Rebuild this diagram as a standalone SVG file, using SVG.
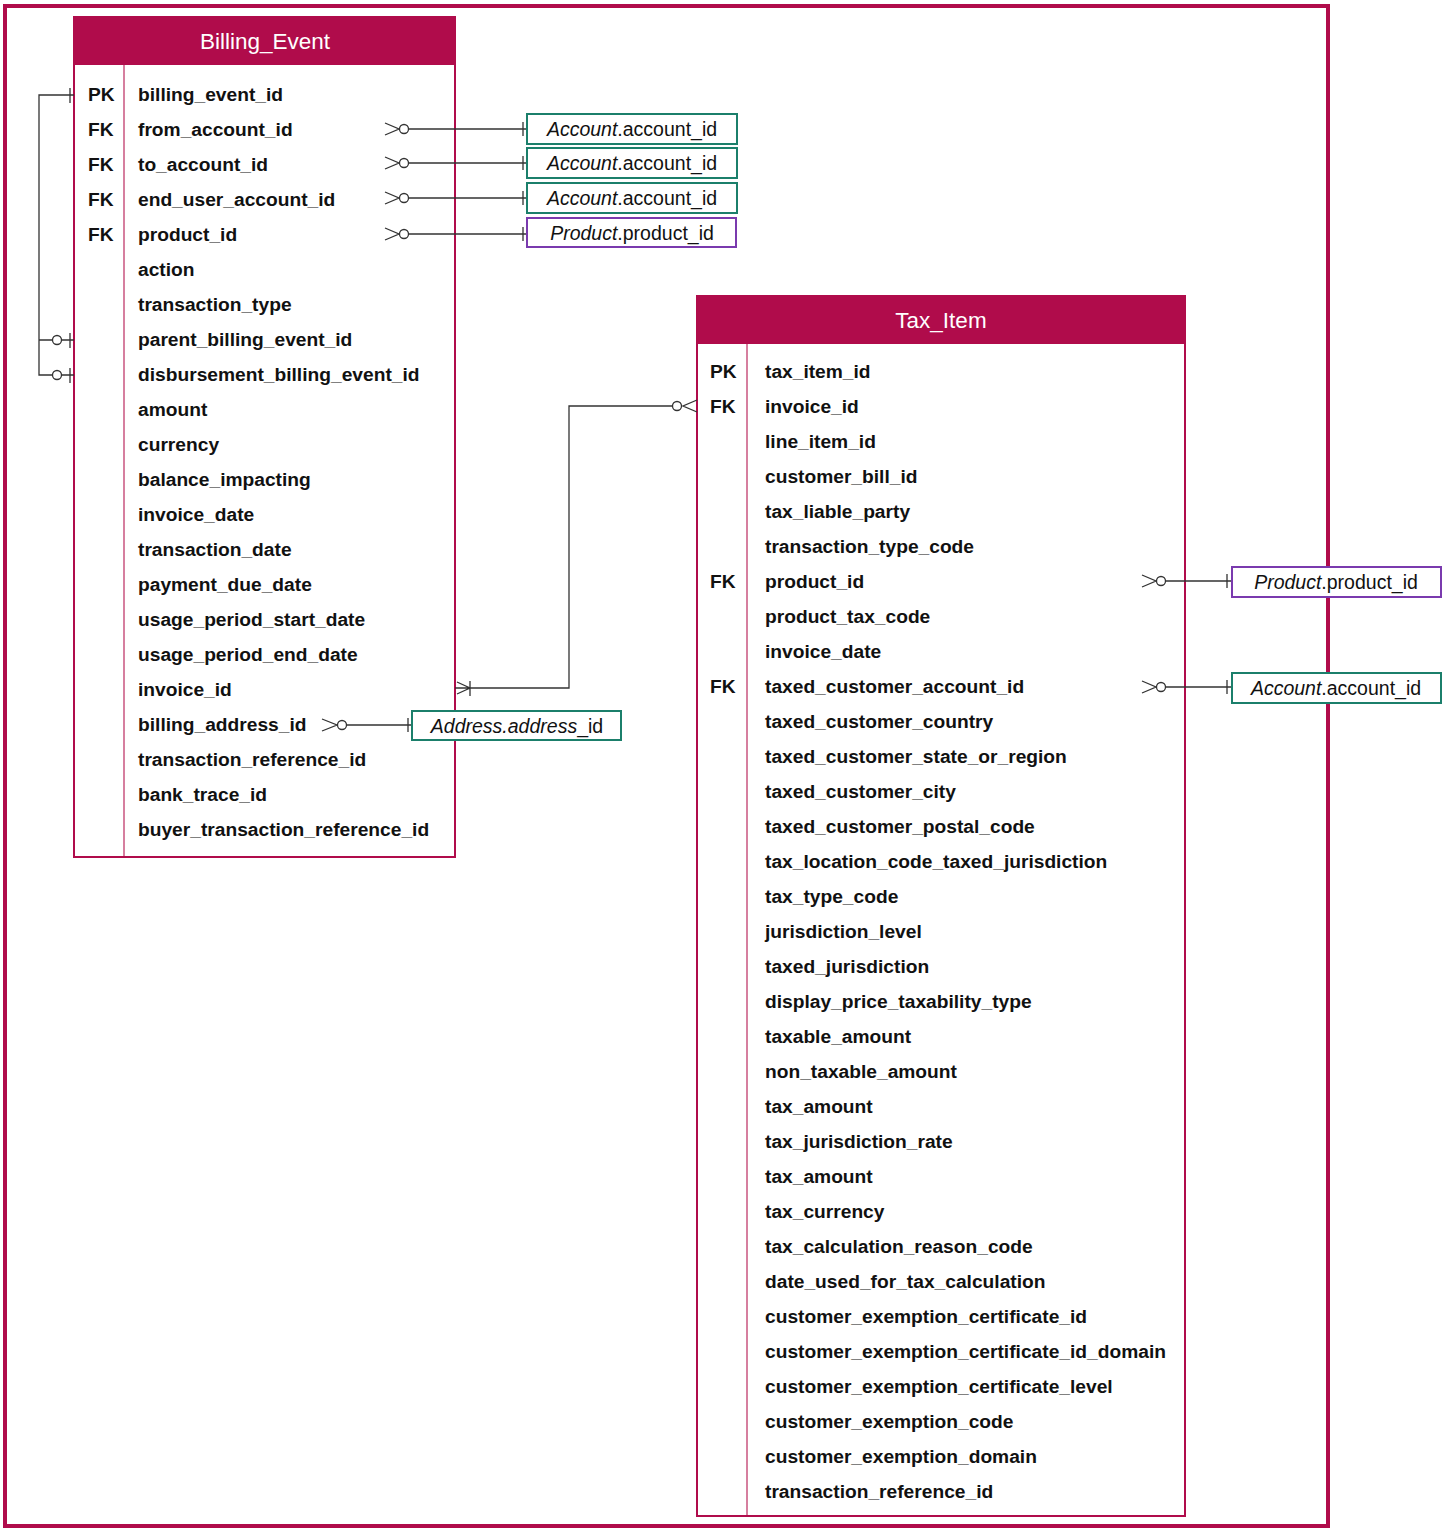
<svg xmlns="http://www.w3.org/2000/svg" width="1448" height="1528" viewBox="0 0 1448 1528">
<style>
.frame{fill:none;stroke:#B00C4B;stroke-width:4}
.box{fill:#fff;stroke:#B00C4B;stroke-width:2}
.hdr{fill:#B00C4B}
.div{stroke:#C8557F;stroke-width:1.5}
.title{font-family:"Liberation Sans",Arial,sans-serif;font-size:22.5px;fill:#fff;text-anchor:middle}
.f{font-family:"Liberation Sans",Arial,sans-serif;font-size:19.2px;font-weight:bold;fill:#111}
.ref{font-family:"Liberation Sans",Arial,sans-serif;font-size:19.5px;fill:#111;text-anchor:middle}
.g{fill:#fff;stroke:#1B7F6B;stroke-width:2}
.p{fill:#fff;stroke:#7A3AAE;stroke-width:2}
.ln{fill:none;stroke:#333;stroke-width:1.3}
.c{fill:#fff;stroke:#333;stroke-width:1.3}
</style>
<rect x="0" y="0" width="1448" height="1528" fill="#fff"/>
<rect class="frame" x="5" y="6" width="1323" height="1520"/>

<g id="billing_event">
<rect class="box" x="74" y="17" width="381" height="840"/>
<rect class="hdr" x="74" y="17" width="381" height="48"/>
<line class="div" x1="124" y1="65" x2="124" y2="856"/>
<text class="title" x="265" y="49">Billing_Event</text>
<text class="f" x="88" y="101">PK</text>
<text class="f" x="88" y="136">FK</text>
<text class="f" x="88" y="171">FK</text>
<text class="f" x="88" y="206">FK</text>
<text class="f" x="88" y="241">FK</text>
<text class="f" x="138" y="101">billing_event_id</text>
<text class="f" x="138" y="136">from_account_id</text>
<text class="f" x="138" y="171">to_account_id</text>
<text class="f" x="138" y="206">end_user_account_id</text>
<text class="f" x="138" y="241">product_id</text>
<text class="f" x="138" y="276">action</text>
<text class="f" x="138" y="311">transaction_type</text>
<text class="f" x="138" y="346">parent_billing_event_id</text>
<text class="f" x="138" y="381">disbursement_billing_event_id</text>
<text class="f" x="138" y="416">amount</text>
<text class="f" x="138" y="451">currency</text>
<text class="f" x="138" y="486">balance_impacting</text>
<text class="f" x="138" y="521">invoice_date</text>
<text class="f" x="138" y="556">transaction_date</text>
<text class="f" x="138" y="591">payment_due_date</text>
<text class="f" x="138" y="626">usage_period_start_date</text>
<text class="f" x="138" y="661">usage_period_end_date</text>
<text class="f" x="138" y="696">invoice_id</text>
<text class="f" x="138" y="731">billing_address_id</text>
<text class="f" x="138" y="766">transaction_reference_id</text>
<text class="f" x="138" y="801">bank_trace_id</text>
<text class="f" x="138" y="836">buyer_transaction_reference_id</text>
</g>

<g id="tax_item">
<rect class="box" x="697" y="296" width="488" height="1220"/>
<rect class="hdr" x="697" y="296" width="488" height="48"/>
<line class="div" x1="747" y1="344" x2="747" y2="1515"/>
<text class="title" x="941" y="328">Tax_Item</text>
<text class="f" x="710" y="378">PK</text>
<text class="f" x="710" y="413">FK</text>
<text class="f" x="710" y="588">FK</text>
<text class="f" x="710" y="693">FK</text>
<text class="f" x="765" y="378">tax_item_id</text>
<text class="f" x="765" y="413">invoice_id</text>
<text class="f" x="765" y="448">line_item_id</text>
<text class="f" x="765" y="483">customer_bill_id</text>
<text class="f" x="765" y="518">tax_liable_party</text>
<text class="f" x="765" y="553">transaction_type_code</text>
<text class="f" x="765" y="588">product_id</text>
<text class="f" x="765" y="623">product_tax_code</text>
<text class="f" x="765" y="658">invoice_date</text>
<text class="f" x="765" y="693">taxed_customer_account_id</text>
<text class="f" x="765" y="728">taxed_customer_country</text>
<text class="f" x="765" y="763">taxed_customer_state_or_region</text>
<text class="f" x="765" y="798">taxed_customer_city</text>
<text class="f" x="765" y="833">taxed_customer_postal_code</text>
<text class="f" x="765" y="868">tax_location_code_taxed_jurisdiction</text>
<text class="f" x="765" y="903">tax_type_code</text>
<text class="f" x="765" y="938">jurisdiction_level</text>
<text class="f" x="765" y="973">taxed_jurisdiction</text>
<text class="f" x="765" y="1008">display_price_taxability_type</text>
<text class="f" x="765" y="1043">taxable_amount</text>
<text class="f" x="765" y="1078">non_taxable_amount</text>
<text class="f" x="765" y="1113">tax_amount</text>
<text class="f" x="765" y="1148">tax_jurisdiction_rate</text>
<text class="f" x="765" y="1183">tax_amount</text>
<text class="f" x="765" y="1218">tax_currency</text>
<text class="f" x="765" y="1253">tax_calculation_reason_code</text>
<text class="f" x="765" y="1288">date_used_for_tax_calculation</text>
<text class="f" x="765" y="1323">customer_exemption_certificate_id</text>
<text class="f" x="765" y="1358">customer_exemption_certificate_id_domain</text>
<text class="f" x="765" y="1393">customer_exemption_certificate_level</text>
<text class="f" x="765" y="1428">customer_exemption_code</text>
<text class="f" x="765" y="1463">customer_exemption_domain</text>
<text class="f" x="765" y="1498">transaction_reference_id</text>
</g>

<g id="connectors">
<!-- self reference -->
<path class="ln" d="M74,95 H39 V375 H52 M62,375 H74 M39,340 H52 M62,340 H74 M70,88 V103 M70,333 V348 M70,368 V383"/>
<circle class="c" cx="57" cy="340" r="4.5"/>
<circle class="c" cx="57" cy="375" r="4.5"/>
<!-- billing FKs to refs -->
<path class="ln" d="M385,123 L399,129 L385,135 M409,129 H527 M523,122 V136"/>
<circle class="c" cx="404" cy="129" r="4.5"/>
<path class="ln" d="M385,157 L399,163 L385,169 M409,163 H527 M523,156 V170"/>
<circle class="c" cx="404" cy="163" r="4.5"/>
<path class="ln" d="M385,192 L399,198 L385,204 M409,198 H527 M523,191 V205"/>
<circle class="c" cx="404" cy="198" r="4.5"/>
<path class="ln" d="M385,228 L399,234 L385,240 M409,234 H527 M523,227 V241"/>
<circle class="c" cx="404" cy="234" r="4.5"/>
<!-- billing_address -->
<path class="ln" d="M322,719 L337,725 L322,731 M347,725 H412 M408,718 V732"/>
<circle class="c" cx="342" cy="725" r="4.5"/>
<!-- tax invoice_id to billing invoice_id -->
<path class="ln" d="M697,400 L683,406 L697,412 M672,406 H569 V688 H455 M457,682 L470,688 L457,694 M470,681 V696"/>
<circle class="c" cx="677" cy="406" r="4.5"/>
<!-- tax product -->
<path class="ln" d="M1142,575 L1156,581 L1142,587 M1166,581 H1232 M1227,574 V588"/>
<circle class="c" cx="1161" cy="581" r="4.5"/>
<!-- tax account -->
<path class="ln" d="M1142,681 L1156,687 L1142,693 M1166,687 H1232 M1227,680 V694"/>
<circle class="c" cx="1161" cy="687" r="4.5"/>
</g>

<g id="ref_account_1"><rect class="g" x="527" y="114" width="210" height="30"/><text class="ref" x="632" y="136"><tspan font-style="italic">Account</tspan>.account_id</text></g>
<g id="ref_account_2"><rect class="g" x="527" y="148" width="210" height="30"/><text class="ref" x="632" y="170"><tspan font-style="italic">Account</tspan>.account_id</text></g>
<g id="ref_account_3"><rect class="g" x="527" y="183" width="210" height="30"/><text class="ref" x="632" y="205"><tspan font-style="italic">Account</tspan>.account_id</text></g>
<g id="ref_product_1"><rect class="p" x="527" y="218" width="209" height="29"/><text class="ref" x="632" y="240"><tspan font-style="italic">Product</tspan>.product_id</text></g>
<g id="ref_address"><rect class="g" x="412" y="711" width="209" height="29"/><text class="ref" x="517" y="733"><tspan font-style="italic">Address.address</tspan>_id</text></g>
<g id="ref_product_2"><rect class="p" x="1232" y="567" width="209" height="30"/><text class="ref" x="1336" y="589"><tspan font-style="italic">Product</tspan>.product_id</text></g>
<g id="ref_account_4"><rect class="g" x="1232" y="673" width="209" height="30"/><text class="ref" x="1336" y="695"><tspan font-style="italic">Account</tspan>.account_id</text></g>
</svg>
